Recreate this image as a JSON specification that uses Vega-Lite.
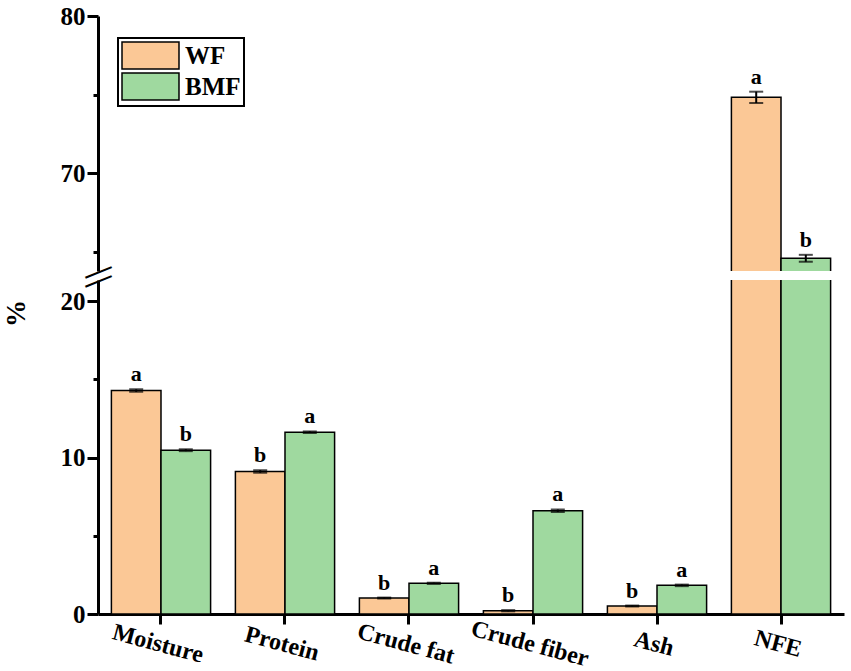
{
  "$schema": "https://vega.github.io/schema/vega-lite/v6.json",
  "background": "white",
  "padding": {"left": 2, "top": 4, "right": 4, "bottom": 4},
  "bounds": "flush",
  "config": {
    "font": "Liberation Serif",
    "view": {"stroke": null},
    "axis": {
      "labelFont": "Liberation Serif",
      "labelFontWeight": "bold",
      "labelColor": "black",
      "titleFont": "Liberation Serif",
      "titleFontWeight": "bold",
      "titleColor": "black",
      "domainColor": "black",
      "domainWidth": 3,
      "tickColor": "black",
      "tickWidth": 3,
      "grid": false
    },
    "legend": {
      "labelFont": "Liberation Serif",
      "labelFontWeight": "bold",
      "labelColor": "black"
    }
  },
  "datasets": {
    "flour": [
      {"component": "Moisture", "flour": "WF", "value": 14.28, "low": 14.2, "high": 14.36, "letter": "a"},
      {"component": "Moisture", "flour": "BMF", "value": 10.47, "low": 10.41, "high": 10.53, "letter": "b"},
      {"component": "Protein", "flour": "WF", "value": 9.11, "low": 9.03, "high": 9.19, "letter": "b"},
      {"component": "Protein", "flour": "BMF", "value": 11.62, "low": 11.57, "high": 11.67, "letter": "a"},
      {"component": "Crude fat", "flour": "WF", "value": 1.02, "low": 0.99, "high": 1.05, "letter": "b"},
      {"component": "Crude fat", "flour": "BMF", "value": 1.96, "low": 1.92, "high": 2.0, "letter": "a"},
      {"component": "Crude fiber", "flour": "WF", "value": 0.21, "low": 0.17, "high": 0.25, "letter": "b"},
      {"component": "Crude fiber", "flour": "BMF", "value": 6.6, "low": 6.52, "high": 6.68, "letter": "a"},
      {"component": "Ash", "flour": "WF", "value": 0.51, "low": 0.48, "high": 0.54, "letter": "b"},
      {"component": "Ash", "flour": "BMF", "value": 1.83, "low": 1.78, "high": 1.88, "letter": "a"},
      {"component": "NFE", "flour": "WF", "value": 74.82, "low": 74.46, "high": 75.18, "letter": "a"},
      {"component": "NFE", "flour": "BMF", "value": 64.57, "low": 64.35, "high": 64.79, "letter": "b"}
    ],
    "breaks": [{"mark": "—"}]
  },
  "spacing": 9,
  "resolve": {"legend": {"color": "independent"}},
  "vconcat": [
    {
      "width": 746,
      "height": 255,
      "data": {"name": "flour"},
      "encoding": {
        "x": {
          "field": "component", "type": "nominal",
          "scale": {"domain": ["Moisture", "Protein", "Crude fat", "Crude fiber", "Ash", "NFE"], "paddingInner": 0.2, "paddingOuter": 0.108},
          "axis": null
        },
        "xOffset": {"field": "flour", "type": "nominal", "scale": {"domain": ["WF", "BMF"]}}
      },
      "layer": [
        {
          "transform": [{"filter": "datum.component === 'NFE'"}],
          "mark": {"type": "bar", "stroke": "black", "strokeWidth": 1.5, "clip": true},
          "encoding": {
            "y": {
              "field": "value", "type": "quantitative",
              "scale": {"domain": [63.76, 80], "nice": false, "zero": false},
              "axis": {
                "title": null,
                "values": [65, 70, 75, 80],
                "labelExpr": "datum.value % 10 === 0 ? datum.label : ''",
                "labelFontSize": 25,
                "labelPadding": 2,
                "tickSize": {"condition": {"test": "datum.value % 10 !== 0", "value": 5}, "value": 11}
              }
            },
            "y2": {"datum": 0},
            "color": {
              "field": "flour", "type": "nominal",
              "scale": {"domain": ["WF", "BMF"], "range": ["#FBC896", "#9FD99F"]},
              "legend": {
                "title": null,
                "orient": "none",
                "legendX": 20,
                "legendY": 22,
                "symbolType": "M-1,-1H3.222V1H-1Z",
                "symbolSize": 729,
                "symbolStrokeColor": "black",
                "symbolStrokeWidth": 1.5,
                "symbolOpacity": 1,
                "labelFontSize": 25,
                "labelOffset": 35,
                "rowPadding": -5,
                "padding": 3,
                "strokeColor": "black",
                "encode": {"legend": {"update": {"strokeWidth": {"value": 2}}}}
              }
            }
          }
        },
        {
          "transform": [{"filter": "datum.component === 'NFE'"}],
          "mark": {"type": "rule", "strokeWidth": 2, "color": "black"},
          "encoding": {"y": {"field": "low", "type": "quantitative"}, "y2": {"field": "high"}}
        },
        {
          "transform": [{"filter": "datum.component === 'NFE'"}],
          "mark": {"type": "tick", "size": 14, "thickness": 2, "color": "black"},
          "encoding": {"y": {"field": "low", "type": "quantitative"}}
        },
        {
          "transform": [{"filter": "datum.component === 'NFE'"}],
          "mark": {"type": "tick", "size": 14, "thickness": 2, "color": "black"},
          "encoding": {"y": {"field": "high", "type": "quantitative"}}
        },
        {
          "transform": [{"filter": "datum.component === 'NFE'"}],
          "mark": {"type": "text", "baseline": "bottom", "dy": -3, "fontSize": 22, "fontWeight": "bold", "color": "black"},
          "encoding": {"y": {"field": "high", "type": "quantitative"}, "text": {"field": "letter"}}
        },
        {
          "data": {"name": "breaks"},
          "mark": {"type": "text", "fontSize": 28, "fontWeight": "bold", "angle": -22, "baseline": "middle", "align": "center", "color": "black"},
          "encoding": {"x": {"value": 0}, "xOffset": null, "y": {"datum": 63.76}, "text": {"field": "mark"}}
        }
      ]
    },
    {
      "width": 746,
      "height": 334,
      "data": {"name": "flour"},
      "encoding": {
        "x": {
          "field": "component", "type": "nominal",
          "scale": {"domain": ["Moisture", "Protein", "Crude fat", "Crude fiber", "Ash", "NFE"], "paddingInner": 0.2, "paddingOuter": 0.108},
          "axis": {
            "title": null,
            "labelAngle": 15,
            "labelAlign": "center",
            "labelBaseline": "top",
            "labelFontSize": 24,
            "labelPadding": 8,
            "tickSize": 10
          }
        },
        "xOffset": {"field": "flour", "type": "nominal", "scale": {"domain": ["WF", "BMF"]}}
      },
      "layer": [
        {
          "mark": {"type": "bar", "stroke": "black", "strokeWidth": 1.5, "clip": true},
          "encoding": {
            "y": {
              "field": "value", "type": "quantitative",
              "scale": {"domain": [0, 21.35], "nice": false},
              "axis": {
                "title": "%",
                "titleFontSize": 27,
                "titleY": 33,
                "titlePadding": 30,
                "values": [0, 5, 10, 15, 20],
                "labelExpr": "datum.value % 10 === 0 ? datum.label : ''",
                "labelFontSize": 25,
                "labelPadding": 2,
                "tickSize": {"condition": {"test": "datum.value % 10 !== 0", "value": 5}, "value": 11}
              }
            },
            "color": {
              "field": "flour", "type": "nominal",
              "scale": {"domain": ["WF", "BMF"], "range": ["#FBC896", "#9FD99F"]},
              "legend": null
            }
          }
        },
        {
          "transform": [{"filter": "datum.component !== 'NFE'"}],
          "mark": {"type": "rule", "strokeWidth": 2, "color": "black"},
          "encoding": {"y": {"field": "low", "type": "quantitative"}, "y2": {"field": "high"}}
        },
        {
          "transform": [{"filter": "datum.component !== 'NFE'"}],
          "mark": {"type": "tick", "size": 14, "thickness": 2, "color": "black"},
          "encoding": {"y": {"field": "low", "type": "quantitative"}}
        },
        {
          "transform": [{"filter": "datum.component !== 'NFE'"}],
          "mark": {"type": "tick", "size": 14, "thickness": 2, "color": "black"},
          "encoding": {"y": {"field": "high", "type": "quantitative"}}
        },
        {
          "transform": [{"filter": "datum.component !== 'NFE'"}],
          "mark": {"type": "text", "baseline": "bottom", "dy": -3, "fontSize": 22, "fontWeight": "bold", "color": "black"},
          "encoding": {"y": {"field": "high", "type": "quantitative"}, "text": {"field": "letter"}}
        },
        {
          "data": {"name": "breaks"},
          "mark": {"type": "text", "fontSize": 28, "fontWeight": "bold", "angle": -22, "baseline": "middle", "align": "center", "color": "black"},
          "encoding": {"x": {"value": 0}, "xOffset": null, "y": {"datum": 21.35}, "text": {"field": "mark"}}
        }
      ]
    }
  ]
}
